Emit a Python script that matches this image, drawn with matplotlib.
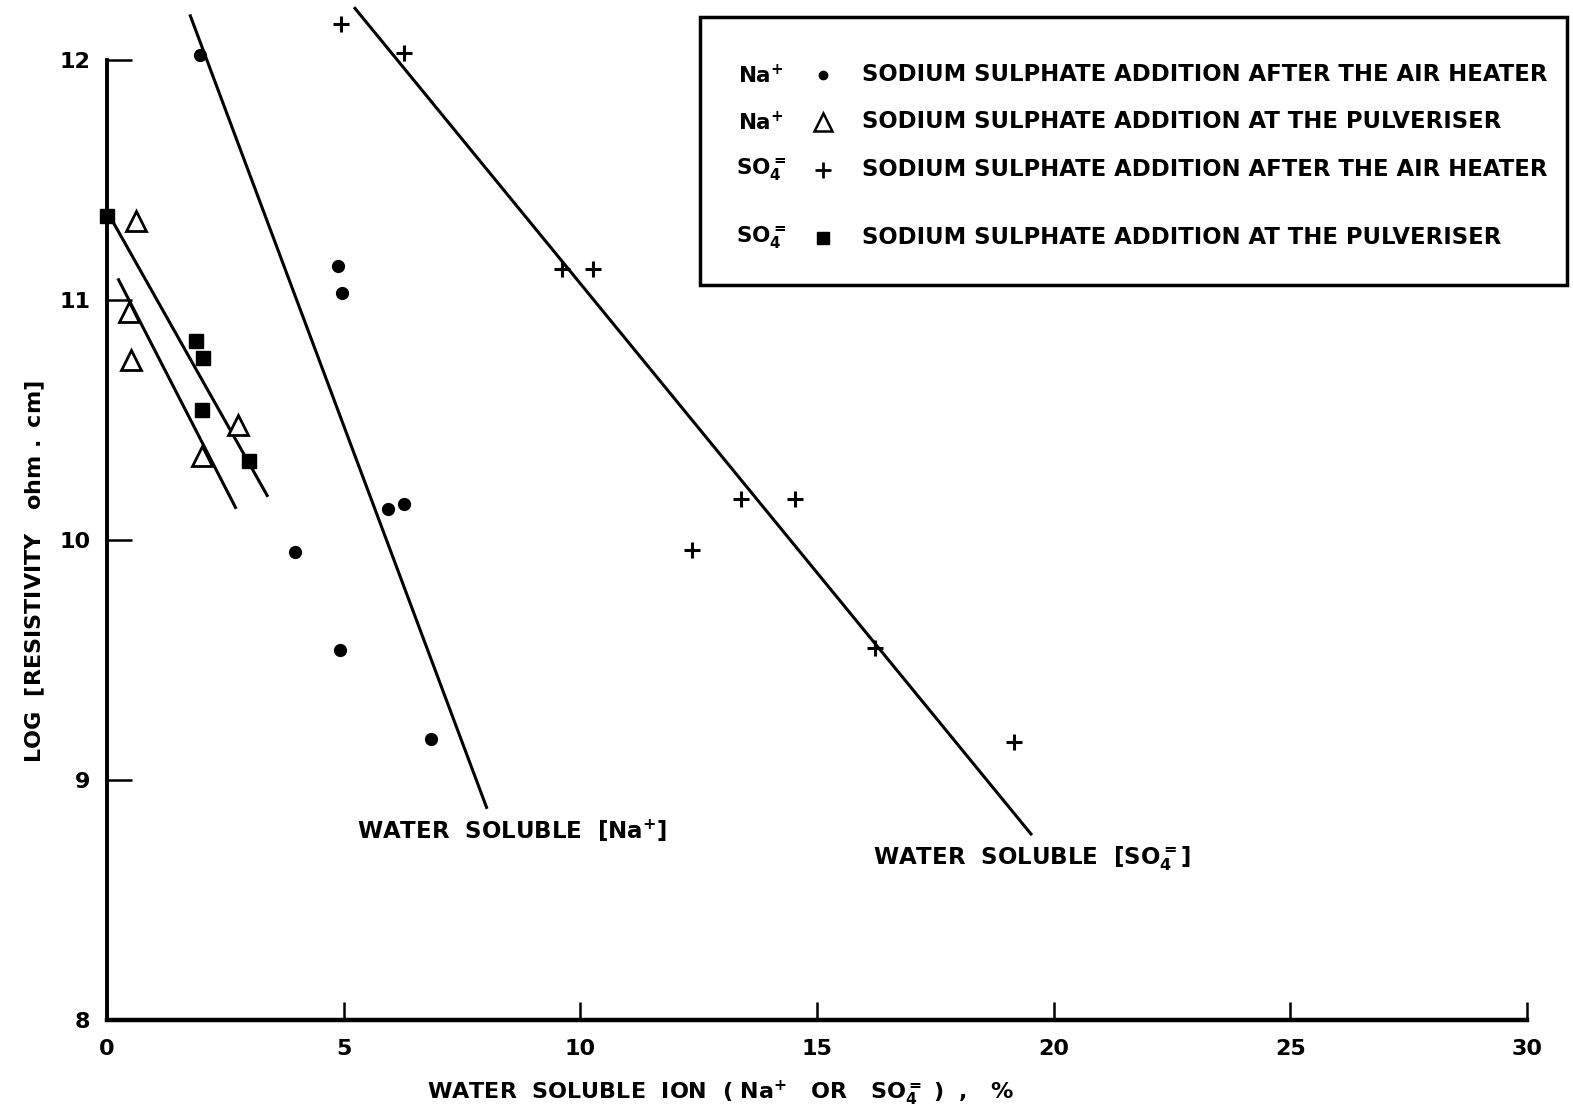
import matplotlib
matplotlib.use('Agg')
import matplotlib.pyplot as plt
from matplotlib.patches import Rectangle

plt.rcParams['font.family'] = ['DejaVu Sans']
plt.rcParams['font.weight'] = 'bold'
plt.rcParams['axes.labelweight'] = 'bold'
plt.rcParams['mathtext.default'] = 'regular'

# Na+ , sodium sulphate added after the air heater
na_air_x = [1.96, 4.88, 4.97, 5.94, 6.27, 3.97, 4.92, 6.85]
na_air_y = [12.02, 11.14, 11.03, 10.13, 10.15, 9.95, 9.54, 9.17]

# Na+ , added at the pulveriser
na_pulv_x = [0.61, 0.46, 0.51, 2.77, 2.00]
na_pulv_y = [11.33, 10.95, 10.75, 10.48, 10.35]

# SO4= , added after the air heater
so4_air_x = [4.94, 6.27, 9.61, 10.27, 13.40, 14.54, 12.36, 16.23, 19.16]
so4_air_y = [12.15, 12.03, 11.13, 11.13, 10.17, 10.17, 9.96, 9.55, 9.16]

# SO4= , added at the pulveriser
so4_pulv_x = [0.0, 1.88, 2.03, 2.00, 3.00]
so4_pulv_y = [11.35, 10.83, 10.76, 10.54, 10.33]

# hand-drawn trend lines (end points)
na_air_fit_x = [1.75, 8.03]
na_air_fit_y = [12.19, 8.88]
so4_air_fit_x = [5.22, 19.54]
so4_air_fit_y = [12.22, 8.77]
so4_pulv_fit_x = [0.0, 3.40]
so4_pulv_fit_y = [11.37, 10.18]
na_pulv_fit_x = [0.23, 2.73]
na_pulv_fit_y = [11.09, 10.13]

x_ticks = [0, 5, 10, 15, 20, 25, 30]
y_ticks = [8, 9, 10, 11, 12]

fig = plt.figure(figsize=(15.73, 11.14), dpi=100)
ax = fig.add_axes([0.068, 0.0844, 0.9028, 0.9156])
ax.set_xlim(0, 30)
ax.set_ylim(8, 12.25)

lw = 2.2
for fx, fy in [(na_air_fit_x, na_air_fit_y), (so4_air_fit_x, so4_air_fit_y),
               (so4_pulv_fit_x, so4_pulv_fit_y), (na_pulv_fit_x, na_pulv_fit_y)]:
    ax.plot(fx, fy, color='black', lw=lw, clip_on=False, solid_capstyle='butt')

ax.plot(na_air_x, na_air_y, 'o', color='black', ms=8.5, clip_on=False)
ax.plot(na_pulv_x, na_pulv_y, '^', mfc='white', mec='black', mew=2, ms=15, clip_on=False)
ax.plot(so4_air_x, so4_air_y, '+', color='black', mew=2.2, ms=12, clip_on=False)
ax.plot(so4_pulv_x, so4_pulv_y, 's', color='black', ms=10, clip_on=False)

# axes: only left and bottom, ticks inward
for s in ['top', 'right']:
    ax.spines[s].set_visible(False)
ax.spines['left'].set_bounds(8, 12)
ax.spines['bottom'].set_bounds(0, 30)
ax.spines['left'].set_linewidth(2.8)
ax.spines['bottom'].set_linewidth(3.2)
ax.set_xticks(x_ticks)
ax.set_yticks(y_ticks)
ax.tick_params(axis='x', direction='in', length=13, width=1.8, labelsize=16, pad=14)
ax.tick_params(axis='y', direction='in', length=18, width=1.8, labelsize=16, pad=12)

ax.set_xlabel(r'WATER  SOLUBLE  ION  ( Na$^{+}$   OR   SO$_{4}^{=}$ )  ,   %', fontsize=16)
ax.xaxis.set_label_coords(0.432, -0.058)
ax.set_ylabel(r'LOG  $\left[ RESISTIVITY\ \ \ ohm\ .\ cm \right]$', fontsize=16)
ax.yaxis.set_label_coords(-0.042, 0.44)

ax.text(5.28, 8.79, r'WATER  SOLUBLE  $\left[ Na^{+} \right]$', fontsize=16.5, va='center')
ax.text(16.18, 8.67, r'WATER  SOLUBLE  $\left[ SO_{4}^{=} \right]$', fontsize=16.5, va='center')

# legend box drawn in figure coordinates
fig.patches.append(Rectangle((0.445, 0.744), 0.551, 0.2406, transform=fig.transFigure,
                             fill=False, ec='black', lw=2.5))
rows = [0.9327, 0.8905, 0.8474, 0.7864]
ions = [r'Na$^{+}$', r'Na$^{+}$', r'SO$_{4}^{=}$', r'SO$_{4}^{=}$']
labels = ['SODIUM SULPHATE ADDITION AFTER THE AIR HEATER',
          'SODIUM SULPHATE ADDITION AT THE PULVERISER',
          'SODIUM SULPHATE ADDITION AFTER THE AIR HEATER',
          'SODIUM SULPHATE ADDITION AT THE PULVERISER']
marks = [dict(marker='o', color='black', ms=6),
         dict(marker='^', mfc='white', mec='black', mew=1.8, ms=13),
         dict(marker='+', color='black', mew=2, ms=11),
         dict(marker='s', color='black', ms=9)]
for y, ion, lab, mk in zip(rows, ions, labels, marks):
    fig.text(0.484, y, ion, fontsize=15.5, ha='center', va='center')
    fig.lines.append(plt.Line2D([0.523], [y], transform=fig.transFigure, ls='none', **mk))
    fig.text(0.548, y, lab, fontsize=16.4, ha='left', va='center')

fig.savefig('out.png', dpi=100)
